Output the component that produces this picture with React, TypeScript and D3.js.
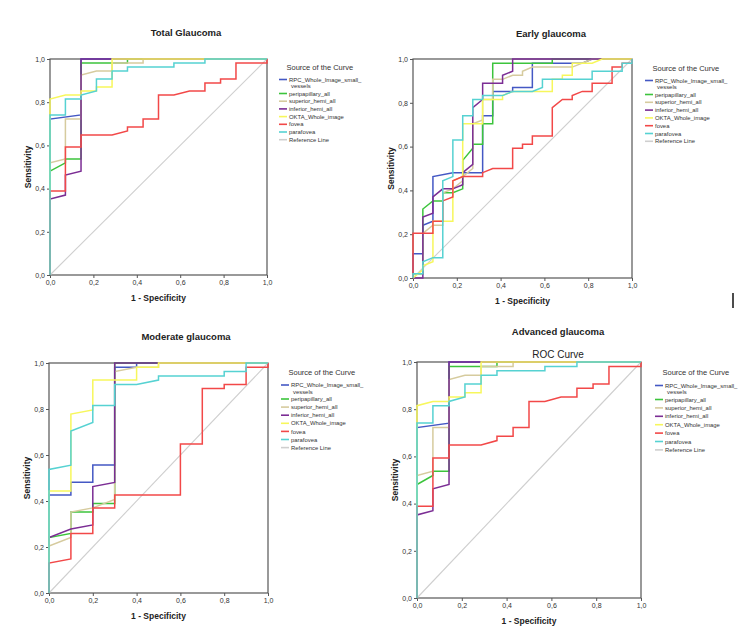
import { useEffect, useRef } from "react";
import * as d3 from "d3";

type Pt = [number, number];

const seriesNames = [
  "RPC_Whole_Image_small_vessels",
  "peripapillary_all",
  "superior_hemi_all",
  "inferior_hemi_all",
  "OKTA_Whole_image",
  "fovea",
  "parafovea",
];
const seriesColors = ["#4458c4", "#3cc43c", "#d6cb9e", "#7b2d94", "#f7f75c", "#f24848", "#56d2d2"];
const refColor = "#cfcfcf";
const tickValues = [0, 0.2, 0.4, 0.6, 0.8, 1.0];

// Total glaucoma (1 - specificity, sensitivity)
const totalRpc: Pt[] = [[0, 0], [0, 0.722], [0.143, 0.741], [0.143, 1], [1, 1]];
const totalPeri: Pt[] = [[0, 0], [0, 0.481], [0.071, 0.519], [0.071, 0.537], [0.143, 0.537], [0.143, 0.981], [0.357, 0.981], [0.357, 1], [1, 1]];
const totalSuperior: Pt[] = [[0, 0], [0, 0.519], [0.071, 0.537], [0.071, 0.722], [0.143, 0.722], [0.143, 0.926], [0.214, 0.944], [0.286, 0.944], [0.286, 0.981], [0.429, 0.981], [0.429, 1], [1, 1]];
const totalInferior: Pt[] = [[0, 0], [0, 0.352], [0.071, 0.37], [0.071, 0.463], [0.143, 0.481], [0.143, 1], [1, 1]];
const totalOkta: Pt[] = [[0, 0], [0, 0.815], [0.071, 0.833], [0.143, 0.833], [0.143, 0.852], [0.214, 0.852], [0.214, 0.87], [0.286, 0.87], [0.286, 1], [1, 1]];
const totalFovea: Pt[] = [[0, 0], [0, 0.389], [0.071, 0.389], [0.071, 0.593], [0.143, 0.593], [0.143, 0.648], [0.286, 0.648], [0.357, 0.667], [0.357, 0.685], [0.429, 0.685], [0.429, 0.722], [0.5, 0.722], [0.5, 0.833], [0.571, 0.833], [0.643, 0.852], [0.714, 0.852], [0.714, 0.889], [0.786, 0.889], [0.786, 0.907], [0.857, 0.907], [0.857, 0.981], [1, 0.981], [1, 1]];
const totalPara: Pt[] = [[0, 0], [0, 0.741], [0.071, 0.741], [0.071, 0.815], [0.143, 0.815], [0.143, 0.833], [0.214, 0.852], [0.214, 0.907], [0.286, 0.907], [0.286, 0.944], [0.357, 0.944], [0.357, 0.963], [0.571, 0.963], [0.571, 0.981], [0.714, 0.981], [0.714, 1], [1, 1]];

// Early glaucoma
const earlyRpc: Pt[] = [[0, 0], [0, 0.111], [0.045, 0.111], [0.045, 0.241], [0.091, 0.259], [0.091, 0.463], [0.182, 0.481], [0.318, 0.481], [0.318, 0.741], [0.364, 0.741], [0.364, 0.852], [0.455, 0.852], [0.455, 0.87], [0.545, 0.87], [0.545, 0.981], [0.773, 0.981], [0.818, 1], [1, 1]];
const earlyPeri: Pt[] = [[0, 0], [0, 0.019], [0.045, 0.019], [0.045, 0.315], [0.091, 0.352], [0.136, 0.352], [0.136, 0.389], [0.182, 0.389], [0.227, 0.407], [0.227, 0.537], [0.273, 0.593], [0.273, 0.611], [0.318, 0.611], [0.318, 0.704], [0.364, 0.704], [0.364, 0.981], [0.636, 0.981], [0.636, 1], [1, 1]];
const earlySuperior: Pt[] = [[0, 0], [0, 0.019], [0.045, 0.019], [0.045, 0.204], [0.091, 0.241], [0.136, 0.241], [0.136, 0.389], [0.182, 0.407], [0.227, 0.444], [0.227, 0.463], [0.273, 0.5], [0.273, 0.704], [0.318, 0.722], [0.318, 0.815], [0.364, 0.815], [0.364, 0.907], [0.409, 0.907], [0.455, 0.926], [0.5, 0.926], [0.5, 0.944], [0.545, 0.963], [0.727, 0.963], [0.773, 0.981], [0.818, 1], [1, 1]];
const earlyInferior: Pt[] = [[0, 0], [0.045, 0], [0.045, 0.278], [0.091, 0.296], [0.091, 0.37], [0.136, 0.407], [0.182, 0.407], [0.227, 0.426], [0.227, 0.481], [0.273, 0.519], [0.273, 0.778], [0.318, 0.815], [0.318, 0.889], [0.409, 0.889], [0.409, 0.926], [0.455, 0.944], [0.455, 1], [1, 1]];
const earlyOkta: Pt[] = [[0, 0], [0.045, 0.037], [0.045, 0.056], [0.091, 0.074], [0.091, 0.259], [0.182, 0.259], [0.182, 0.444], [0.227, 0.463], [0.227, 0.704], [0.318, 0.704], [0.318, 0.815], [0.409, 0.815], [0.409, 0.833], [0.455, 0.852], [0.636, 0.852], [0.636, 0.907], [0.682, 0.907], [0.682, 0.926], [0.727, 0.926], [0.727, 0.981], [0.818, 0.981], [0.864, 1], [1, 1]];
const earlyFovea: Pt[] = [[0, 0], [0, 0.204], [0.091, 0.204], [0.091, 0.259], [0.136, 0.259], [0.136, 0.352], [0.182, 0.37], [0.182, 0.444], [0.227, 0.463], [0.318, 0.463], [0.318, 0.481], [0.364, 0.5], [0.455, 0.5], [0.455, 0.593], [0.5, 0.593], [0.5, 0.611], [0.545, 0.611], [0.545, 0.648], [0.636, 0.648], [0.636, 0.778], [0.682, 0.815], [0.727, 0.815], [0.727, 0.833], [0.773, 0.852], [0.818, 0.852], [0.818, 0.889], [0.909, 0.889], [0.909, 0.963], [0.955, 0.963], [0.955, 0.981], [1, 0.981], [1, 1]];
const earlyPara: Pt[] = [[0, 0], [0, 0.019], [0.045, 0.019], [0.045, 0.074], [0.091, 0.093], [0.136, 0.093], [0.136, 0.444], [0.182, 0.463], [0.182, 0.63], [0.227, 0.63], [0.227, 0.741], [0.273, 0.741], [0.273, 0.815], [0.318, 0.815], [0.318, 0.833], [0.409, 0.833], [0.455, 0.852], [0.545, 0.852], [0.591, 0.87], [0.591, 0.907], [0.818, 0.907], [0.818, 0.944], [0.955, 0.944], [0.955, 0.981], [1, 0.981], [1, 1]];

// Moderate glaucoma
const moderateRpc: Pt[] = [[0, 0], [0, 0.426], [0.1, 0.426], [0.1, 0.481], [0.2, 0.481], [0.2, 0.556], [0.3, 0.556], [0.3, 0.981], [0.4, 0.981], [0.4, 1], [1, 1]];
const moderatePeri: Pt[] = [[0, 0], [0, 0.241], [0.1, 0.259], [0.1, 0.352], [0.2, 0.352], [0.2, 0.389], [0.3, 0.389], [0.3, 1], [1, 1]];
const moderateSuperior: Pt[] = [[0, 0], [0, 0.204], [0.1, 0.241], [0.1, 0.352], [0.2, 0.37], [0.3, 0.407], [0.3, 0.963], [0.4, 0.981], [0.5, 0.981], [0.5, 1], [1, 1]];
const moderateInferior: Pt[] = [[0, 0], [0, 0.241], [0.1, 0.278], [0.2, 0.296], [0.2, 0.463], [0.3, 0.481], [0.3, 1], [1, 1]];
const moderateOkta: Pt[] = [[0, 0], [0, 0.444], [0.1, 0.444], [0.1, 0.778], [0.2, 0.796], [0.2, 0.926], [0.4, 0.926], [0.4, 0.981], [0.5, 0.981], [0.5, 1], [1, 1]];
const moderateFovea: Pt[] = [[0, 0], [0, 0.13], [0.1, 0.148], [0.1, 0.259], [0.2, 0.259], [0.2, 0.37], [0.3, 0.37], [0.3, 0.426], [0.6, 0.426], [0.6, 0.648], [0.7, 0.648], [0.7, 0.889], [0.8, 0.889], [0.8, 0.907], [0.9, 0.907], [0.9, 0.981], [1, 0.981], [1, 1]];
const moderatePara: Pt[] = [[0, 0], [0, 0.537], [0.1, 0.556], [0.1, 0.704], [0.2, 0.741], [0.2, 0.815], [0.3, 0.815], [0.3, 0.907], [0.4, 0.907], [0.5, 0.926], [0.5, 0.944], [0.8, 0.944], [0.8, 0.963], [0.9, 0.963], [0.9, 1], [1, 1]];

// Advanced glaucoma: same curves as the total group
const advancedRpc = totalRpc;
const advancedPeri = totalPeri;
const advancedSuperior = totalSuperior;
const advancedInferior = totalInferior;
const advancedOkta = totalOkta;
const advancedFovea = totalFovea;
const advancedPara = totalPara;

interface PanelLayout {
  title: string;
  subtitle?: string;
  curves: Pt[][];
  left: number;
  right: number;
  top: number;
  bottom: number;
  titleX: number;
  titleY: number;
  legendX: number;
  legendTitleY: number;
  legendFirstY: number;
  legendStep: number;
}

const panels: PanelLayout[] = [
  {
    title: "Total Glaucoma",
    curves: [totalRpc, totalPeri, totalSuperior, totalInferior, totalOkta, totalFovea, totalPara],
    left: 50, right: 267, top: 59, bottom: 275,
    titleX: 186, titleY: 33,
    legendX: 289, legendTitleY: 67, legendFirstY: 79.5, legendStep: 7.7,
  },
  {
    title: "Early glaucoma",
    curves: [earlyRpc, earlyPeri, earlySuperior, earlyInferior, earlyOkta, earlyFovea, earlyPara],
    left: 413, right: 632, top: 59, bottom: 278,
    titleX: 551, titleY: 34,
    legendX: 655, legendTitleY: 68, legendFirstY: 80.5, legendStep: 7.8,
  },
  {
    title: "Moderate glaucoma",
    curves: [moderateRpc, moderatePeri, moderateSuperior, moderateInferior, moderateOkta, moderateFovea, moderatePara],
    left: 49, right: 268, top: 363, bottom: 593,
    titleX: 186, titleY: 337,
    legendX: 291, legendTitleY: 372, legendFirstY: 385, legendStep: 8.1,
  },
  {
    title: "Advanced glaucoma",
    subtitle: "ROC Curve",
    curves: [advancedRpc, advancedPeri, advancedSuperior, advancedInferior, advancedOkta, advancedFovea, advancedPara],
    left: 417, right: 641, top: 362, bottom: 598,
    titleX: 558, titleY: 332,
    legendX: 665, legendTitleY: 372, legendFirstY: 385.5, legendStep: 8.4,
  },
];

const FONT = "'Liberation Sans', Arial, sans-serif";
const fmt = (v: number) => d3.format(".1f")(v).replace(".", ",");

export default function App() {
  const svgRef = useRef<SVGSVGElement>(null);

  useEffect(() => {
    if (!svgRef.current) return;
    const svg = d3.select(svgRef.current);
    svg.selectAll("*").remove();
    svg.append("rect").attr("width", 750).attr("height", 641).attr("fill", "#fff");

    panels.forEach((p) => {
      const x = d3.scaleLinear().domain([0, 1]).range([p.left, p.right]);
      const y = d3.scaleLinear().domain([0, 1]).range([p.bottom, p.top]);
      const g = svg.append("g").attr("font-family", FONT);

      // titles
      g.append("text")
        .attr("x", p.titleX)
        .attr("y", p.titleY + 3.4)
        .attr("text-anchor", "middle")
        .attr("font-size", 9.5)
        .attr("font-weight", "bold")
        .attr("fill", "#222")
        .text(p.title);
      if (p.subtitle) {
        g.append("text")
          .attr("x", p.titleX)
          .attr("y", p.top - 8 + 3.5)
          .attr("text-anchor", "middle")
          .attr("font-size", 10)
          .attr("fill", "#222")
          .text(p.subtitle);
      }

      // axes
      const xAxis = d3.axisBottom(x).tickValues(tickValues).tickFormat((d) => fmt(d as number)).tickSize(3).tickSizeOuter(0).tickPadding(2);
      const yAxis = d3.axisLeft(y).tickValues(tickValues).tickFormat((d) => fmt(d as number)).tickSize(3).tickSizeOuter(0).tickPadding(2);
      const gx = g.append("g").attr("transform", `translate(0,${p.bottom})`).call(xAxis);
      const gy = g.append("g").attr("transform", `translate(${p.left},0)`).call(yAxis);
      [gx, gy].forEach((ax) => {
        ax.select(".domain").remove();
        ax.selectAll(".tick line").attr("stroke", "#555");
        ax.selectAll(".tick text").attr("font-size", 7).attr("fill", "#333").attr("font-family", FONT);
      });

      // axis titles
      g.append("text")
        .attr("transform", `translate(${p.left - 22},${(p.top + p.bottom) / 2}) rotate(-90)`)
        .attr("text-anchor", "middle")
        .attr("dy", "0.35em")
        .attr("font-size", 8.5)
        .attr("font-weight", "bold")
        .attr("fill", "#222")
        .text("Sensitivity");
      g.append("text")
        .attr("x", (p.left + p.right) / 2)
        .attr("y", p.bottom + 23)
        .attr("dy", "0.35em")
        .attr("text-anchor", "middle")
        .attr("font-size", 8.5)
        .attr("font-weight", "bold")
        .attr("fill", "#222")
        .text("1 - Specificity");

      // plot frame
      g.append("rect")
        .attr("x", p.left)
        .attr("y", p.top)
        .attr("width", p.right - p.left)
        .attr("height", p.bottom - p.top)
        .attr("fill", "none")
        .attr("stroke", "#555")
        .attr("stroke-width", 1.2);

      const line = d3.line<Pt>().x((d) => x(d[0])).y((d) => y(d[1]));

      // reference diagonal
      g.append("path")
        .attr("d", line([[0, 0], [1, 1]]))
        .attr("fill", "none")
        .attr("stroke", refColor)
        .attr("stroke-width", 1.1);

      p.curves.forEach((pts, i) => {
        g.append("path")
          .attr("d", line(pts))
          .attr("fill", "none")
          .attr("stroke", seriesColors[i])
          .attr("stroke-width", 1.5)
          .attr("stroke-linejoin", "miter");
      });

      // legend
      const lg = g.append("g");
      lg.append("text")
        .attr("x", p.legendX - 2.5)
        .attr("y", p.legendTitleY + 2.7)
        .attr("font-size", 7.5)
        .attr("fill", "#333")
        .text("Source of the Curve");
      const labels = [...seriesNames, "Reference Line"];
      const colors = [...seriesColors, refColor];
      labels.forEach((name, i) => {
        const cy = i === 0 ? p.legendFirstY : p.legendFirstY + 14 + (i - 1) * p.legendStep;
        lg.append("line")
          .attr("x1", p.legendX - 10)
          .attr("x2", p.legendX - 2)
          .attr("y1", cy)
          .attr("y2", cy)
          .attr("stroke", colors[i])
          .attr("stroke-width", 1.6);
        if (i === 0) {
          lg.append("text").attr("x", p.legendX).attr("y", cy + 2.1).attr("font-size", 5.9).attr("fill", "#333").text("RPC_Whole_Image_small_");
          lg.append("text").attr("x", p.legendX + 2).attr("y", cy + 8.9).attr("font-size", 5.9).attr("fill", "#333").text("vessels");
        } else {
          lg.append("text").attr("x", p.legendX).attr("y", cy + 2.1).attr("font-size", 5.9).attr("fill", "#333").text(name);
        }
      });
    });

    // stray cursor mark beside the early panel
    svg.append("line")
      .attr("x1", 733).attr("x2", 733)
      .attr("y1", 293).attr("y2", 308)
      .attr("stroke", "#111")
      .attr("stroke-width", 1.5);

    return () => {
      svg.selectAll("*").remove();
    };
  }, []);

  return (
    <svg
      ref={svgRef}
      width={750}
      height={641}
      style={{ position: "absolute", left: 0, top: 0 }}
    />
  );
}
